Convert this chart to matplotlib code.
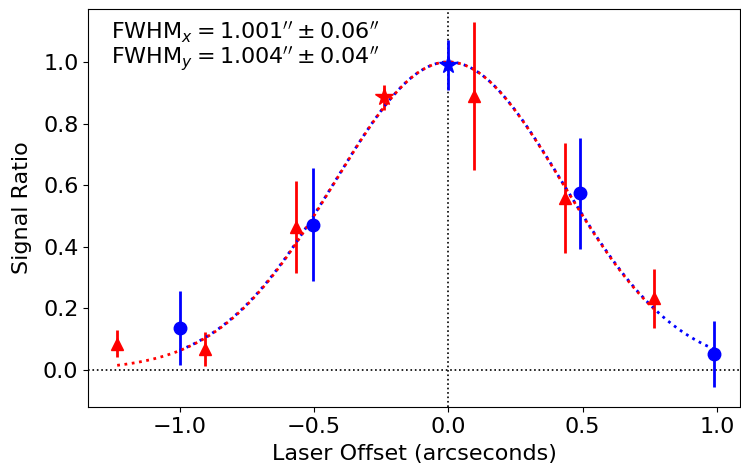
import numpy as np
import matplotlib.pyplot as plt

# x-direction scan (red) and y-direction scan (blue)
x_off = [-1.233, -0.905, -0.566, -0.238, 0.097, 0.436, 0.764]
x_sig = [0.085, 0.068, 0.464, 0.885, 0.890, 0.558, 0.232]
x_err = [0.044, 0.055, 0.148, 0.040, 0.240, 0.180, 0.097]
x_peak = 3  # index of the brightest x point

y_off = [-1.0, -0.505, 0.0, 0.49, 0.99]
y_sig = [0.136, 0.472, 0.990, 0.574, 0.052]
y_err = [0.120, 0.183, 0.080, 0.180, 0.107]
y_peak = 2

fwhm_x, fwhm_x_err = 1.001, 0.06
fwhm_y, fwhm_y_err = 1.004, 0.04


def gauss(x, fwhm, amp=1.0, x0=0.0):
    s = fwhm / (2 * np.sqrt(2 * np.log(2)))
    return amp * np.exp(-(x - x0) ** 2 / (2 * s ** 2))


fig, ax = plt.subplots(figsize=(7.41, 4.72), dpi=100)

ax.axhline(0, color='k', ls=':', lw=1.2)
ax.axvline(0, color='k', ls=':', lw=1.2)

# red triangles (x scan)
for i in range(len(x_off)):
    mk = '*' if i == x_peak else '^'
    ms = 13 if i == x_peak else 9
    ax.errorbar(x_off[i], x_sig[i], yerr=x_err[i], fmt=mk, color='red',
                ms=ms, lw=2, capsize=0)

# blue circles (y scan)
for i in range(len(y_off)):
    mk = '*' if i == y_peak else 'o'
    ms = 13 if i == y_peak else 9
    ax.errorbar(y_off[i], y_sig[i], yerr=y_err[i], fmt=mk, color='blue',
                ms=ms, lw=2, capsize=0)

xx = np.linspace(min(y_off), max(y_off), 300)
ax.plot(xx, gauss(xx, fwhm_y), ':', color='blue', lw=2)
xx = np.linspace(min(x_off), max(x_off), 300)
ax.plot(xx, gauss(xx, fwhm_x), ':', color='red', lw=2)

ax.text(0.035, 0.972,
        r"FWHM$_x = %.3f'' \pm %.2f''$" % (fwhm_x, fwhm_x_err) + "\n" +
        r"FWHM$_y = %.3f'' \pm %.2f''$" % (fwhm_y, fwhm_y_err),
        transform=ax.transAxes, va='top', ha='left', fontsize=16,
        linespacing=0.95)

ax.set_xlim(-1.341, 1.087)
ax.set_ylim(-0.12, 1.172)
ax.set_xticks([-1.0, -0.5, 0.0, 0.5, 1.0])
ax.set_yticks([0.0, 0.2, 0.4, 0.6, 0.8, 1.0])
ax.tick_params(labelsize=16)
ax.set_xlabel('Laser Offset (arcseconds)', fontsize=16, labelpad=5)
ax.set_ylabel('Signal Ratio', fontsize=16, labelpad=8)

plt.subplots_adjust(left=0.119, right=0.999, top=0.981, bottom=0.138)
plt.savefig('out.png', dpi=100)
